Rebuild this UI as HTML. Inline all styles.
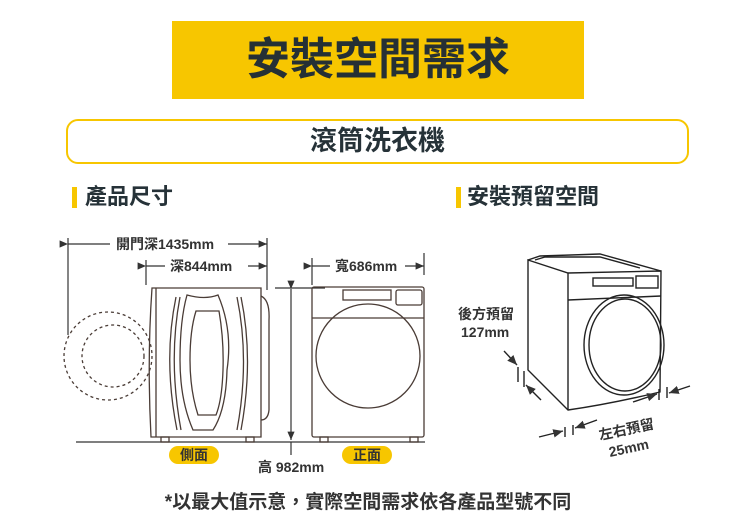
<!DOCTYPE html>
<html><head><meta charset="utf-8"><style>
body{margin:0;width:736px;height:528px;background:#fff;overflow:hidden;position:relative;font-family:"Liberation Sans","Noto Sans CJK TC",sans-serif;color:#263238}
.abs{position:absolute}
</style></head><body>
<div class="abs" style="left:172px;top:21px;width:412px;height:78px;background:#f7c600;font-size:44px;font-weight:bold;line-height:78px;text-align:center;color:#253035">安裝空間需求</div>
<div class="abs" style="left:66px;top:119px;width:619px;height:41px;border:2px solid #f7c600;border-radius:12px;font-size:27px;font-weight:bold;line-height:41px;text-align:center">滾筒洗衣機</div>
<div class="abs" style="left:72px;top:187px;width:5px;height:21px;background:#f7c600"></div>
<div class="abs" style="left:85px;top:182px;font-size:22px;font-weight:bold;line-height:30px">產品尺寸</div>
<div class="abs" style="left:456px;top:187px;width:5px;height:21px;background:#f7c600"></div>
<div class="abs" style="left:467px;top:182px;font-size:22px;font-weight:bold;line-height:30px">安裝預留空間</div>
<div class="abs" style="left:0;width:736px;top:490px;text-align:center;font-size:19px;font-weight:bold;line-height:26px;color:#333">*以最大值示意，實際空間需求依各產品型號不同</div>
<svg class="abs" style="left:0;top:0" width="736" height="528" viewBox="0 0 736 528">
<defs><marker id="a" markerWidth="8" markerHeight="8" refX="7" refY="4" orient="auto"><path d="M0,1 L7,4 L0,7z" fill="#333"/></marker></defs>
<g stroke="#333" stroke-width="1.2" fill="none">
<line x1="68" y1="238" x2="68" y2="335"/><line x1="267" y1="238" x2="267" y2="290"/>
<line x1="146" y1="260" x2="146" y2="285"/><line x1="312" y1="258" x2="312" y2="285"/><line x1="424" y1="253" x2="424" y2="275"/>
<line x1="68" y1="244" x2="110" y2="244" marker-start="url(#a)"/><line x1="228" y1="244" x2="267" y2="244" marker-end="url(#a)"/>
<line x1="146" y1="266" x2="165" y2="266" marker-start="url(#a)"/><line x1="248" y1="266" x2="267" y2="266" marker-end="url(#a)"/>
<line x1="312" y1="266" x2="330" y2="266" marker-start="url(#a)"/><line x1="405" y1="266" x2="424" y2="266" marker-end="url(#a)"/>
<line x1="275" y1="288" x2="325" y2="288"/>
<line x1="291" y1="289" x2="291" y2="440" marker-start="url(#a)" marker-end="url(#a)"/>
<line x1="76" y1="442" x2="425" y2="442"/>
<line x1="291" y1="442" x2="291" y2="455"/>
</g>
<g stroke="#4a3c36" stroke-width="1.3" fill="none">
<circle cx="108" cy="356" r="44" stroke-dasharray="3,3"/>
<circle cx="113" cy="356" r="31" stroke-dasharray="3,3"/>
<path d="M152,288 H261 V437 H151 Q147,360 152,288z"/>
<line x1="156" y1="288" x2="156" y2="437"/>
<path d="M261,296 Q270,300 269,320 V410 Q268,420 261,420"/>
<path d="M187,295 Q205,300 218,295 Q233,330 227,370 Q226,410 213,430 H193 Q180,400 180,360 Q180,320 187,295z"/>
<path d="M196,311 H219 Q224,340 223,370 Q222,400 216,415 H198 Q190,390 190,360 Q190,330 196,311z"/>
<path d="M176,297 Q163,360 177,430"/><path d="M180,297 Q168,360 181,430"/>
<path d="M237,297 Q250,360 237,430"/><path d="M241,297 Q254,360 241,430"/>
<rect x="161" y="437" width="8" height="5"/><rect x="246" y="437" width="8" height="5"/>
<rect x="312" y="287" width="112" height="150" rx="2"/>
<rect x="343" y="290" width="48" height="10"/><rect x="396" y="290" width="26" height="15" rx="2"/>
<line x1="312" y1="318" x2="424" y2="318"/>
<circle cx="368" cy="356" r="52"/>
<rect x="320" y="437" width="8" height="5"/><rect x="410" y="437" width="8" height="5"/>
</g>
<g stroke="#222" stroke-width="1.4" fill="none">
<path d="M528,260 L568,273 L661,271 L660,392 Q610,404 568,410 L528,370z"/>
<path d="M528,260 L540,256 L600,254 L661,271"/>
<path d="M535,260 L545,257 L600,257 L640,268"/>
<line x1="568" y1="273" x2="568" y2="410"/>
<line x1="568" y1="300" x2="661" y2="296"/>
<rect x="593" y="278" width="40" height="8"/><rect x="636" y="276" width="22" height="12"/>
<ellipse cx="624" cy="345" rx="40" ry="50"/><ellipse cx="625" cy="345" rx="36" ry="46"/>
<line x1="518" y1="367" x2="518" y2="382"/><line x1="524" y1="371" x2="524" y2="387"/>
<line x1="504" y1="351" x2="517" y2="365" marker-end="url(#a)"/>
<line x1="541" y1="400" x2="526" y2="385" marker-end="url(#a)"/>
<line x1="565" y1="427" x2="565" y2="437"/><line x1="573" y1="425" x2="573" y2="435"/>
<line x1="539" y1="437" x2="563" y2="431" marker-end="url(#a)"/>
<line x1="597" y1="420" x2="575" y2="428" marker-end="url(#a)"/>
<line x1="659" y1="389" x2="659" y2="400"/><line x1="667" y1="387" x2="667" y2="398"/>
<line x1="633" y1="402" x2="657" y2="394" marker-end="url(#a)"/>
<line x1="690" y1="386" x2="669" y2="393" marker-end="url(#a)"/>
</g>
<g font-family="Liberation Sans,Noto Sans CJK TC,sans-serif" font-size="14" fill="#333" font-weight="bold">
<text x="116" y="249">開門深1435mm</text>
<text x="170" y="271">深844mm</text>
<text x="335" y="271">寬686mm</text>
<text x="258" y="472">高 982mm</text>
<text x="458" y="319">後方預留</text>
<text x="461" y="337">127mm</text>
<text x="600" y="440" transform="rotate(-12 600 440)">左右預留</text>
<text x="610" y="457" transform="rotate(-12 610 457)">25mm</text>
</g>
<rect x="169" y="446" width="50" height="18" rx="9" fill="#f7c600"/>
<rect x="342" y="446" width="50" height="18" rx="9" fill="#f7c600"/>
<g font-family="Liberation Sans,Noto Sans CJK TC,sans-serif" font-size="14" font-weight="bold" fill="#333" text-anchor="middle">
<text x="194" y="460">側面</text><text x="367" y="460">正面</text>
</g>
</svg>
</body></html>
